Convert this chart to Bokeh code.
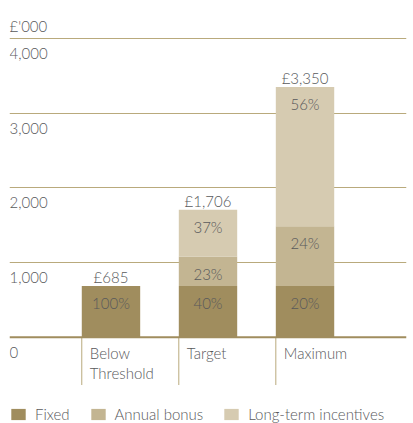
import numpy as np
from bokeh.plotting import figure
from bokeh.models import (FactorRange, Range1d, ColumnDataSource, FixedTicker,
                          Span, Grid)
from bokeh.transform import dodge
from bokeh.core.properties import value
from bokeh.embed import file_html
from bokeh.resources import INLINE

# ---- data ----
categories = ["Below Threshold", "Target", "Maximum"]
category_labels = ["Below\nThreshold", "Target", "Maximum"]
fixed = [685, 685, 685]
annual_bonus = [0, 392, 800]
long_term = [0, 629, 1865]
total_labels = ["£685", "£1,706", "£3,350"]
pct_fixed = ["100%", "40%", "20%"]
pct_bonus = ["", "23%", "24%"]
pct_long_term = ["", "37%", "56%"]
series_names = ["Fixed", "Annual bonus", "Long-term incentives"]
y_ticks = [0, 1000, 2000, 3000, 4000]
y_tick_labels = ["0", "1,000", "2,000", "3,000", "4,000"]
unit_label = "£'000"

# ---- style ----
colors = ["#A08D5E", "#C3B592", "#D6CBB1"]
grid_color = "#B9AA7C"
base_color = "#A08D5E"
text_color = "#58595B"
FONT_NAME = "'Lato Light', Lato, sans-serif"
FONT = value(FONT_NAME)
FS = "15px"
PAD = 0.546

src = ColumnDataSource(dict(cat=categories, fixed=fixed, bonus=annual_bonus,
                            lti=long_term))

p = figure(x_range=FactorRange(factors=categories, range_padding=PAD,
                               range_padding_units="absolute"),
           y_range=Range1d(-1155, 4507), width=413, height=423,
           output_backend="svg", toolbar_location=None,
           x_axis_location=None, y_axis_location=None,
           min_border_left=9, min_border_right=7, min_border_top=0,
           min_border_bottom=0)
p.outline_line_color = None
p.grid.visible = False
p.add_layout(Grid(dimension=1, ticker=FixedTicker(ticks=y_ticks[1:]),
                  grid_line_color=grid_color, grid_line_width=1))

bar_w = 0.602
renderers = p.vbar_stack(["fixed", "bonus", "lti"], x="cat", width=bar_w,
                         color=colors, source=src, line_width=0,
                         legend_label=series_names)

p.add_layout(Span(location=y_ticks[0], dimension="width",
                  line_color=base_color, line_width=2))

# separators below axis at bar left edges
sep_src = ColumnDataSource(dict(cat=categories, y0=[0] * 3, y1=[-640] * 3))
left_edge = dodge("cat", -bar_w / 2, range=p.x_range)
p.segment(x0=left_edge, y0="y0", x1=left_edge, y1="y1", source=sep_src,
          line_color=grid_color, line_width=1)

# category labels
cat_src = ColumnDataSource(dict(cat=categories, y=[0] * 3, text=category_labels))
p.text(x=left_edge, y="y", text="text", source=cat_src, x_offset=8,
       y_offset=7, text_align="left", text_baseline="top",
       text_font=FONT, text_font_size=FS, text_color=text_color,
       text_line_height=1.1)

# y tick labels at the left edge of the frame (synthetic coordinate = range start)
frame_left = -PAD
yt_src = ColumnDataSource(dict(x=[frame_left] * len(y_ticks), y=y_ticks,
                               text=y_tick_labels))
p.text(x="x", y="y", text="text", source=yt_src,
       y_offset=15, text_align="left", text_baseline="alphabetic",
       text_font=FONT, text_font_size=FS, text_color=text_color)
p.text(x=[frame_left], y=[y_ticks[-1]], text=[unit_label],
       y_offset=-12, text_align="left", text_baseline="alphabetic",
       text_font=FONT, text_font_size=FS, text_color=text_color)

# totals above bars
f = np.array(fixed); b = np.array(annual_bonus); l = np.array(long_term)
tops = f + b + l
tot_src = ColumnDataSource(dict(cat=categories, y=tops, text=total_labels))
p.text(x="cat", y="y", text="text", source=tot_src, y_offset=-9,
       text_align="center", text_baseline="alphabetic", text_font=FONT,
       text_font_size=FS, text_color=text_color)

# percentage labels at top of each segment
pc, py, pt = [], [], []
for seg_top, labels in ((f, pct_fixed), (f + b, pct_bonus), (tops, pct_long_term)):
    for c, yv, t in zip(categories, seg_top, labels):
        if t:
            pc.append(c); py.append(yv); pt.append(t)
pct_src = ColumnDataSource(dict(cat=pc, y=py, text=pt))
p.text(x="cat", y="y", text="text", source=pct_src, y_offset=17,
       text_align="center", text_baseline="alphabetic", text_font=FONT,
       text_font_size=FS, text_color=text_color)

lg = p.legend[0]
lg.orientation = "horizontal"
lg.location = (0, 0)
lg.padding = 0
lg.margin = 0
lg.spacing = 19
lg.glyph_width = 18
lg.glyph_height = 14
lg.label_height = 14
lg.label_standoff = 8
lg.border_line_color = None
lg.background_fill_alpha = 0
lg.label_text_font = FONT_NAME
lg.label_text_font_size = FS
lg.label_text_color = text_color

open("out.html", "w").write(file_html(p, INLINE))
